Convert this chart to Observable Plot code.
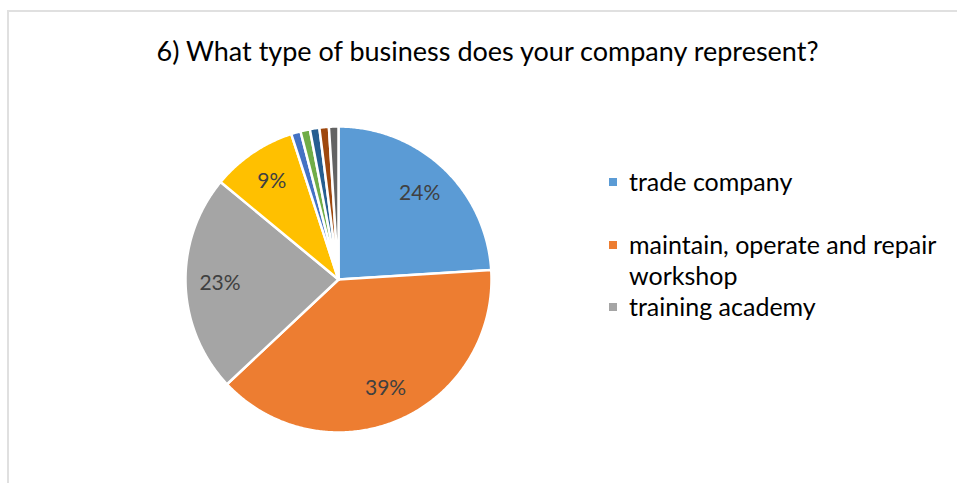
<!DOCTYPE html>
<html>
<head>
<meta charset="utf-8">
<script src="https://cdn.jsdelivr.net/npm/d3@7"></script>
<script src="https://cdn.jsdelivr.net/npm/@observablehq/plot@0.6"></script>
<style>
  html, body { margin: 0; padding: 0; background: #fff; }
  #wrap { position: relative; width: 957px; height: 483px; overflow: hidden; font-family: Lato, "Open Sans", sans-serif; }
  #border { position: absolute; left: 7px; top: 10px; width: 1000px; height: 1000px; border-left: 2px solid #e0e0e0; border-top: 2px solid #e0e0e0; box-sizing: border-box; }
  #title { position: absolute; left: 0; width: 975px; top: 34px; text-align: center; font-size: 27px; color: #000; white-space: nowrap; }
  .leg { position: absolute; left: 609px; font-size: 25px; color: #000; white-space: nowrap; line-height: 31px; }
  .sw { position: absolute; left: 0; width: 8px; height: 8px; }
  .lt { position: absolute; left: 20px; top: 0; }
  #chart { position: absolute; left: 0; top: 0; }
</style>
</head>
<body>
<div id="wrap">
  <div id="border"></div>
  <div id="chart"></div>
  <div id="title">6) What type of business does your company represent?</div>
  <div id="legend"></div>
</div>
<script>
const categories = ["trade company", "maintain, operate and repair workshop", "training academy", "category 4", "category 5", "category 6", "category 7", "category 8", "category 9"];
const values = [24, 39, 23, 9, 1, 1, 1, 1, 1];
const colors = ["#5B9BD5", "#ED7D31", "#A5A5A5", "#FFC000", "#4472C4", "#70AD47", "#255E91", "#9E480E", "#636363"];
const labelled = [true, true, true, true, false, false, false, false, false];
const legendCategories = ["trade company", "maintain, operate and repair workshop", "training academy"];

const total = d3.sum(values);
const arcs = [];
let acc = 0;
values.forEach((v, i) => {
  const a0 = acc / total * 2 * Math.PI;
  acc += v;
  const a1 = acc / total * 2 * Math.PI;
  arcs.push({cat: categories[i], value: v, a0, a1, i});
});

// polygon points for each slice (unit circle, angle clockwise from top)
const pts = [];
arcs.forEach(s => {
  pts.push({cat: s.cat, x: 0, y: 0});
  const n = Math.max(4, Math.ceil((s.a1 - s.a0) / (Math.PI / 360)));
  for (let k = 0; k <= n; k++) {
    const a = s.a0 + (s.a1 - s.a0) * k / n;
    pts.push({cat: s.cat, x: Math.sin(a), y: Math.cos(a)});
  }
  pts.push({cat: s.cat, x: 0, y: 0});
});

const lr = 0.775;
const labels = arcs.filter(s => labelled[s.i]).map(s => {
  const m = (s.a0 + s.a1) / 2;
  return {x: lr * Math.sin(m), y: lr * Math.cos(m), text: Math.round(s.value / total * 100) + "%"};
});

const cx = 338, cy = 279, R = 153;
const chart = Plot.plot({
  width: 957,
  height: 483,
  margin: 0,
  x: {domain: [-1, 1], range: [cx - R, cx + R], axis: null},
  y: {domain: [-1, 1], range: [cy + R, cy - R], axis: null},
  color: {domain: categories, range: colors},
  style: {background: "transparent", overflow: "visible"},
  marks: [
    Plot.line(pts, {x: "x", y: "y", z: "cat", fill: "cat", stroke: "#fff", strokeWidth: 2.5, strokeLinejoin: "round", curve: "linear"}),
    Plot.text(labels, {x: "x", y: "y", text: "text", fill: "#404040", fontSize: 21, fontFamily: "Lato, 'Open Sans', sans-serif"})
  ]
});
document.getElementById("chart").appendChild(chart);

const legTops = [166, 229, 291];
const legend = document.getElementById("legend");
legendCategories.forEach((c, i) => {
  const row = document.createElement("div");
  row.className = "leg";
  row.style.top = legTops[i] + "px";
  const sw = document.createElement("div");
  sw.className = "sw";
  sw.style.background = colors[categories.indexOf(c)];
  sw.style.top = "12px";
  const t = document.createElement("div");
  t.className = "lt";
  t.style.width = "330px";
  t.style.whiteSpace = "normal";
  t.textContent = c;
  row.appendChild(sw);
  row.appendChild(t);
  legend.appendChild(row);
});
</script>
</body>
</html>
